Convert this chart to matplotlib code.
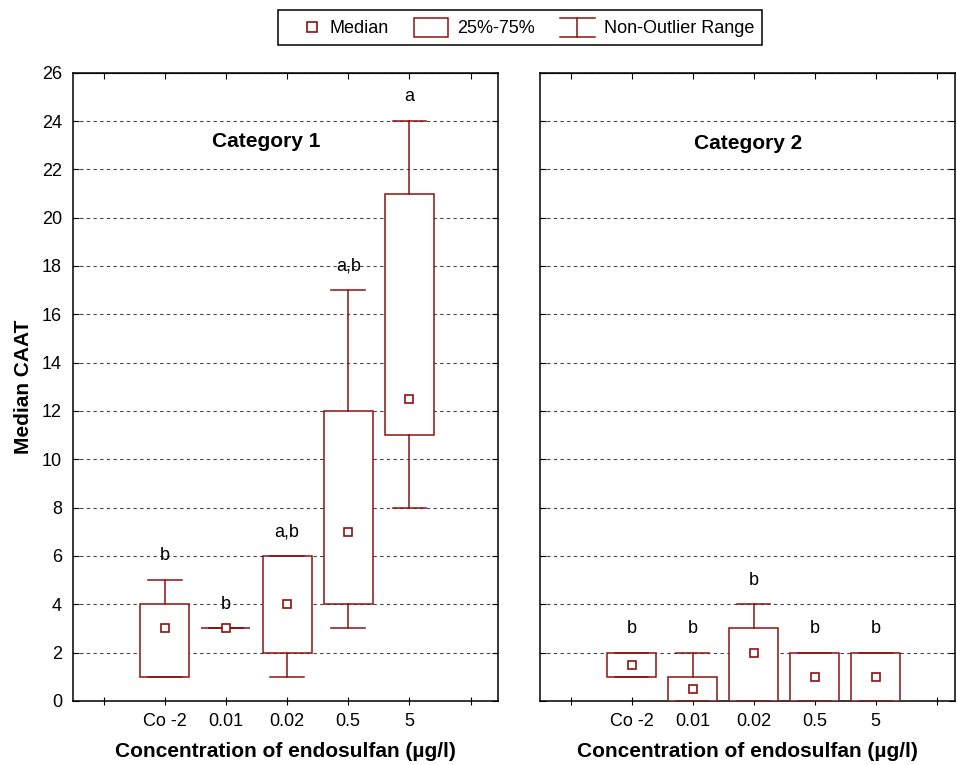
import matplotlib
matplotlib.use('Agg')
import matplotlib.pyplot as plt
from matplotlib.lines import Line2D
from matplotlib.patches import Patch
from matplotlib.legend_handler import HandlerBase

plt.rcParams['font.family'] = ['Liberation Sans', 'DejaVu Sans']

# categorias (concentracao de endosulfan)
categories = ['Co -2', '0.01', '0.02', '0.5', '5']

# Category 1
cat1_med = [3, 3, 4, 7, 12.5]
cat1_q1 = [1, 3, 2, 4, 11]
cat1_q3 = [4, 3, 6, 12, 21]
cat1_lo = [1, 3, 1, 3, 8]
cat1_hi = [5, 3, 6, 17, 24]
cat1_letters = ['b', 'b', 'a,b', 'a,b', 'a']

# Category 2
cat2_med = [1.5, 0.5, 2, 1, 1]
cat2_q1 = [1, 0, 0, 0, 0]
cat2_q3 = [2, 1, 3, 2, 2]
cat2_lo = [1, 0, 0, 0, 0]
cat2_hi = [2, 2, 4, 2, 2]
cat2_letters = ['b', 'b', 'b', 'b', 'b']

RED = '#8b1212'
LW = 1.1


class MedianHandler(HandlerBase):
    def create_artists(self, legend, orig_handle, xdescent, ydescent,
                       width, height, fontsize, trans):
        m = Line2D([width - xdescent - 6], [height / 2 - ydescent], marker='s',
                   ms=7, mfc='white', mec=RED, mew=1.2, ls='none', transform=trans)
        return [m]


class RangeHandler(HandlerBase):
    def create_artists(self, legend, orig_handle, xdescent, ydescent,
                       width, height, fontsize, trans):
        x0, x1 = -xdescent, -xdescent + width
        y0, y1 = -ydescent, -ydescent + height
        xm = (x0 + x1) / 2
        segs = [([x0, x1], [y0, y0]), ([x0, x1], [y1, y1]), ([xm, xm], [y0, y1])]
        return [Line2D(a, b, color=RED, lw=LW, transform=trans) for a, b in segs]


def painel(ax, med, q1, q3, lo, hi, letters, titulo, tx, ty, xmax):
    stats = []
    for i in range(len(med)):
        stats.append(dict(med=med[i], mean=med[i], q1=q1[i], q3=q3[i],
                          whislo=lo[i], whishi=hi[i], fliers=[]))
    pos = list(range(1, len(med) + 1))
    ax.bxp(stats, positions=pos, widths=0.8, capwidths=0.55, patch_artist=True,
           showmeans=True, manage_ticks=False, zorder=3,
           boxprops=dict(facecolor='white', edgecolor=RED, linewidth=LW),
           whiskerprops=dict(color=RED, linewidth=LW),
           capprops=dict(color=RED, linewidth=LW),
           medianprops=dict(linewidth=0),
           meanprops=dict(marker='s', markerfacecolor='white', markeredgecolor=RED,
                          markersize=6, markeredgewidth=1.2))
    for p, h, t in zip(pos, hi, letters):
        ax.text(p, h + 1.0, t, ha='center', va='center', fontsize=13)
    ax.text(tx, ty, titulo, transform=ax.transAxes, ha='center', va='center',
            fontsize=15, fontweight='bold')

    ax.set_xlim(-0.5, xmax)
    ax.set_ylim(0, 26)
    ax.set_xticks(range(0, 7))
    ax.set_xticklabels([''] + categories + [''], fontsize=13)
    ax.set_yticks(range(0, 27, 2))
    ax.yaxis.grid(True, linestyle=(0, (3, 3)), color='#444444', linewidth=0.8)
    ax.set_axisbelow(True)
    ax.tick_params(axis='x', bottom=True, top=False, direction='inout',
                   length=6, pad=6)
    # marcas de cima, so para dentro
    topo = ax.secondary_xaxis('top')
    topo.set_xticks(range(0, 7))
    topo.tick_params(direction='in', length=4, labeltop=False)
    ax.tick_params(axis='y', left=True, right=True, direction='in', length=4,
                   labelsize=13, pad=8)
    for s in ax.spines.values():
        s.set_linewidth(1.1)
    ax.set_xlabel('Concentration of endosulfan (µg/l)', fontsize=15,
                  fontweight='bold', labelpad=8)


fig = plt.figure(figsize=(9.57, 7.65), dpi=100)
ax1 = fig.add_axes([0.0763, 0.0837, 0.4441, 0.8213])
ax2 = fig.add_axes([0.5643, 0.0837, 0.4337, 0.8213])

painel(ax1, cat1_med, cat1_q1, cat1_q3, cat1_lo, cat1_hi, cat1_letters,
       'Category 1', 0.454, 0.891, 6.45)
painel(ax2, cat2_med, cat2_q1, cat2_q3, cat2_lo, cat2_hi, cat2_letters,
       'Category 2', 0.501, 0.888, 6.3)
ax2.tick_params(axis='y', labelleft=False)
ax1.set_ylabel('Median CAAT', fontsize=15, fontweight='bold', labelpad=6)

h_med = Line2D([], [])
h_box = Patch(facecolor='white', edgecolor=RED, linewidth=LW)
h_rng = Line2D([], [], color=RED)
leg = fig.legend([h_med, h_box, h_rng], ['Median', '25%-75%', 'Non-Outlier Range'],
                 handler_map={h_med: MedianHandler(), h_rng: RangeHandler()},
                 loc='center', bbox_to_anchor=(0.5434, 0.964), ncol=3, fontsize=13,
                 fancybox=False, edgecolor='black', framealpha=1, handlelength=1.9,
                 handleheight=1.25, handletextpad=0.5, columnspacing=1.4,
                 borderpad=0.45)
leg.get_frame().set_linewidth(1.1)

fig.savefig('out.png', dpi=100)
